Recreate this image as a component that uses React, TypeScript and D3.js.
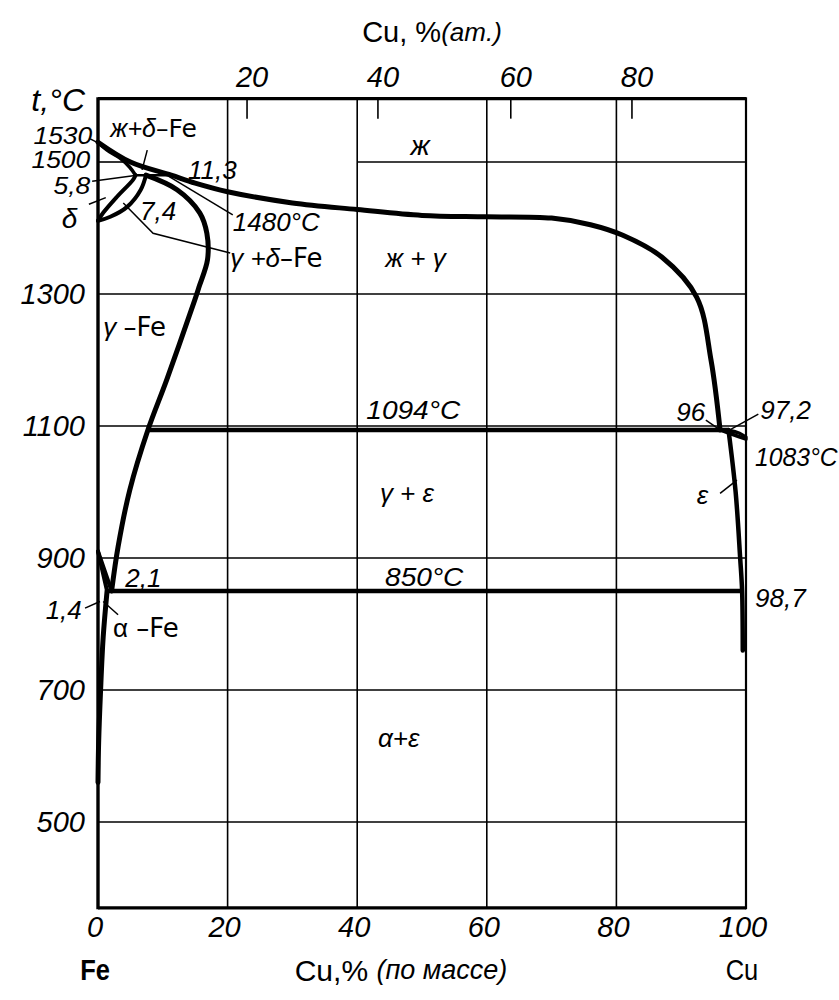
import React from 'react';
import * as d3 from 'd3';

const W = 839;
const H = 1000;

// ---- axis data ----
const massTicks = [0, 20, 40, 60, 80, 100];
const massGrid = [20, 40, 60, 80];
const tempTicks = [500, 700, 900, 1100, 1300];
const tempGridFull = [500, 700, 900, 1100, 1300];
const atTickLabels = [20, 40, 60, 80];
const atTickMass = [23.0, 43.2, 63.7, 82.4];

// ---- phase boundaries: [mass % Cu, T °C] ----
const liquidus: [number, number][] = [
  [0, 1530], [5, 1500], [11.3, 1480], [15, 1468], [20, 1455], [30, 1438], [40, 1428],
  [50, 1419], [60, 1417], [70, 1415], [76, 1405], [81, 1389], [87, 1356], [92.4, 1295],
  [94.6, 1200], [96, 1094],
];
const deltaSolidus: [number, number][] = [[0, 1530], [1.4, 1518], [3.4, 1506], [4.9, 1492], [5.8, 1480]];
const deltaUpper: [number, number][] = [[0, 1411], [0.8, 1423], [2.9, 1447], [5.4, 1473], [5.8, 1480]];
const deltaLower: [number, number][] = [[0, 1411], [1.9, 1417], [4.5, 1432], [6.6, 1458], [7.4, 1480]];
const gammaBoundary: [number, number][] = [
  [7.4, 1480], [12.2, 1458], [15.7, 1423], [16.8, 1392], [16.9, 1352], [15.6, 1311],
  [14.9, 1290], [10.6, 1170], [7.7, 1094], [4.9, 1003], [3.1, 917], [2.1, 850],
];
const gammaAlpha: [number, number][] = [[0, 910], [2.1, 850]];
const alphaGamma: [number, number][] = [[0, 910], [1.4, 850]];
const alphaSolvus: [number, number][] = [[1.4, 850], [0.8, 780], [0.4, 700], [0.1, 620], [0, 560]];
const cuLensUpper: [number, number][] = [[97.2, 1094], [99, 1089], [100, 1083]];
const cuLensLower: [number, number][] = [[96, 1094], [98.3, 1086], [100, 1080]];
const epsSolvus: [number, number][] = [[97.3, 1094], [98.4, 1000], [99.1, 900], [99.4, 850], [99.5, 760]];
const isotherms: { T: number; from: number; to: number }[] = [
  { T: 1480, from: 5.8, to: 11.3 },
  { T: 1094, from: 7.7, to: 97.3 },
  { T: 850, from: 1.4, to: 99.4 },
];

// ---- leader lines: [w, T] pairs ----
const leaders: [number, number][][] = [
  [[-1.2, 1535], [0.4, 1527]],
  [[-0.9, 1471], [6.0, 1480]],
  [[-1.4, 1436], [1.2, 1446]],
  [[7.6, 1518], [6.8, 1488]],
  [[10.8, 1479], [20.8, 1420]],
  [[3.9, 1438], [8.5, 1392], [20.4, 1362]],
  [[93.8, 1109], [96, 1094]],
  [[101.9, 1118], [97.5, 1094]],
  [[96, 998], [98.6, 1018]],
  [[-2, 824], [0.3, 834]],
  [[3.1, 814], [0.8, 834]],
];

type Part = { t: string; it?: boolean; sans?: boolean };
type Ann = { parts: Part[]; w: number; T: number; anchor?: 'start' | 'middle' | 'end'; size?: number; sx?: number };

const annotations: Ann[] = [
  { parts: [{ t: 'ж', it: true }], w: 49.7, T: 1526, anchor: 'middle', size: 28 },
  { parts: [{ t: 'ж + γ', it: true }], w: 49, T: 1355, anchor: 'middle' },
  { parts: [{ t: 'ж+δ', it: true }, { t: '–Fe', sans: true }], w: 1.9, T: 1552, size: 25 },
  { parts: [{ t: '11,3', it: true }], w: 13.9, T: 1488 },
  { parts: [{ t: '7,4', it: true }], w: 6.5, T: 1426 },
  { parts: [{ t: '1480°C', it: true }], w: 20.8, T: 1409 },
  { parts: [{ t: 'γ +δ', it: true }, { t: '–Fe', sans: true }], w: 20.4, T: 1355 },
  { parts: [{ t: 'δ', it: true }], w: -5.6, T: 1415, size: 28 },
  { parts: [{ t: 'γ ', it: true }, { t: '–Fe', sans: true }], w: 0.8, T: 1250 },
  { parts: [{ t: '1094°C', it: true }], w: 41.4, T: 1124, sx: 1.08 },
  { parts: [{ t: 'γ + ε', it: true }], w: 43.5, T: 998 },
  { parts: [{ t: '850°C', it: true }], w: 44.3, T: 870, sx: 1.08 },
  { parts: [{ t: '2,1', it: true }], w: 4.2, T: 870 },
  { parts: [{ t: '1,4', it: true }], w: -2.5, T: 821, anchor: 'end' },
  { parts: [{ t: 'α', it: false }, { t: ' –Fe', sans: true }], w: 2.3, T: 794 },
  { parts: [{ t: 'α+ε', it: true }], w: 43.2, T: 627 },
  { parts: [{ t: '96', it: true }], w: 93.7, T: 1121, anchor: 'end' },
  { parts: [{ t: '97,2', it: true }], w: 102.2, T: 1124 },
  { parts: [{ t: '1083°C', it: true }], w: 101.4, T: 1053, sx: 0.95 },
  { parts: [{ t: 'ε', it: true }], w: 92.4, T: 995 },
  { parts: [{ t: '98,7', it: true }], w: 101.4, T: 839 },
  { parts: [{ t: '1530', it: true }], w: -0.9, T: 1541, anchor: 'end', size: 24, sx: 1.1 },
  { parts: [{ t: '1500', it: true }], w: -1.2, T: 1504, anchor: 'end', size: 24, sx: 1.1 },
  { parts: [{ t: '5,8', it: true }], w: -1.2, T: 1464, anchor: 'end', size: 24, sx: 1.1 },
];

const NUM = "'Liberation Sans','Arimo',sans-serif";
const SANS = "'DejaVu Sans','Liberation Sans',sans-serif";

export default function App() {
  const x = d3.scaleLinear().domain([0, 100]).range([98, 746]);
  const y = d3.scaleLinear().domain([500, 1500]).range([822, 162]);
  const Tmin = 370;
  const Tmax = 1596;
  const line = d3
    .line<[number, number]>()
    .x((d) => x(d[0]))
    .y((d) => y(d[1]))
    .curve(d3.curveCatmullRom.alpha(0.5));
  const straight = d3
    .line<[number, number]>()
    .x((d) => x(d[0]))
    .y((d) => y(d[1]));

  const x0 = x(0), x1 = x(100), yTop = y(Tmax), yBot = y(Tmin);

  const thick = { fill: 'none', stroke: '#000', strokeWidth: 4.5, strokeLinecap: 'round' as const, strokeLinejoin: 'round' as const };

  return (
    <svg
      width={W}
      height={H}
      viewBox={`0 0 ${W} ${H}`}
      style={{ display: 'block', background: '#fff', position: 'absolute', left: 0, top: 0 }}
    >
      <rect x={0} y={0} width={W} height={H} fill="#fff" />
      {/* grid */}
      <g stroke="#000" strokeWidth={1.6}>
        {massGrid.map((v) => (
          <line key={'vg' + v} x1={x(v)} x2={x(v)} y1={yTop} y2={yBot} />
        ))}
        {tempGridFull.map((t) => (
          <line key={'hg' + t} x1={x0} x2={x1} y1={y(t)} y2={y(t)} />
        ))}
        <line x1={x0} x2={x(4.2)} y1={y(1500)} y2={y(1500)} />
        <line x1={x(40)} x2={x1} y1={y(1500)} y2={y(1500)} />
        {atTickMass.map((m, i) => (
          <line key={'at' + i} x1={x(m)} x2={x(m)} y1={yTop} y2={yTop + 20} />
        ))}
      </g>
      {/* frame */}
      <g stroke="#000" fill="none">
        <line x1={x0} x2={x1} y1={yTop} y2={yTop} strokeWidth={3.2} />
        <line x1={x0} x2={x1} y1={yBot} y2={yBot} strokeWidth={3.2} />
        <line x1={x0} x2={x0} y1={yTop - 1.5} y2={yBot + 1.5} strokeWidth={3.4} />
        <line x1={x1} x2={x1} y1={yTop - 1.5} y2={yBot + 1.5} strokeWidth={2.2} />
      </g>
      {/* phase boundaries */}
      <g>
        <path d={line(liquidus) || ''} {...thick} strokeWidth={5} />
        <path d={line(deltaSolidus) || ''} {...thick} strokeWidth={3.5} />
        <path d={line(deltaUpper) || ''} {...thick} strokeWidth={4} />
        <path d={line(deltaLower) || ''} {...thick} strokeWidth={4} />
        <path d={line(gammaBoundary) || ''} {...thick} strokeWidth={5} />
        <path d={straight(gammaAlpha) || ''} {...thick} strokeWidth={4} />
        <path d={straight(alphaGamma) || ''} {...thick} strokeWidth={4} />
        <path d={line(alphaSolvus) || ''} {...thick} strokeWidth={5} />
        <path d={line(cuLensUpper) || ''} {...thick} strokeWidth={3.5} />
        <path d={line(cuLensLower) || ''} {...thick} strokeWidth={3.5} />
        <path d={line(epsSolvus) || ''} {...thick} strokeWidth={4.5} />
        {isotherms.map((iso, i) => (
          <line
            key={'iso' + i}
            x1={x(iso.from)}
            x2={x(iso.to)}
            y1={y(iso.T)}
            y2={y(iso.T)}
            stroke="#000"
            strokeWidth={iso.T === 1480 ? 2.5 : 4.5}
          />
        ))}
      </g>
      {/* leader lines */}
      <g stroke="#000" strokeWidth={1.5} fill="none">
        {leaders.map((pts, i) => (
          <path key={'ld' + i} d={straight(pts) || ''} />
        ))}
      </g>
      {/* annotations */}
      <g fill="#000">
        {annotations.map((a, i) => (
          <text
            key={'an' + i}
            transform={`translate(${x(a.w)},${y(a.T)}) scale(${a.sx || 1},1)`}
            textAnchor={a.anchor || 'start'}
            dominantBaseline="central"
            fontSize={a.size || 26}
          >
            {a.parts.map((p, j) => (
              <tspan key={j} fontFamily={p.sans ? SANS : NUM} fontStyle={p.it ? 'italic' : 'normal'}>
                {p.t}
              </tspan>
            ))}
          </text>
        ))}
      </g>
      {/* left axis tick labels */}
      <g fontFamily={NUM} fontStyle="italic" fontSize={29} textAnchor="end">
        {tempTicks.map((t) => (
          <text key={'yt' + t} x={x0 - 13} y={y(t)} dominantBaseline="central">
            {t}
          </text>
        ))}
        <text x={x0 - 13} y={yTop + 1} dominantBaseline="central" fontSize={32}>
          t,°C
        </text>
      </g>
      {/* bottom axis tick labels */}
      <g fontFamily={NUM} fontStyle="italic" fontSize={29} textAnchor="middle">
        {massTicks.map((v) => (
          <text key={'xt' + v} x={x(v) - 3} y={yBot + 8} dominantBaseline="hanging">
            {v}
          </text>
        ))}
      </g>
      <g fontFamily={NUM} fontSize={30} textAnchor="middle">
        <text transform={`translate(${x(0) - 3},${yBot + 62}) scale(0.85,1)`} dominantBaseline="central" fontWeight="bold">
          Fe
        </text>
        <text transform={`translate(${x(100) - 4},${yBot + 62}) scale(0.85,1)`} dominantBaseline="central">
          Cu
        </text>
        <text transform={`translate(${(x(0) + x(100)) / 2 - 21},${yBot + 62})`} dominantBaseline="central">
          <tspan>Cu,% </tspan>
          <tspan fontStyle="italic" fontSize={27}>(по массе)</tspan>
        </text>
      </g>
      {/* top axis */}
      <g fontFamily={NUM} fontStyle="italic" fontSize={29} textAnchor="middle">
        {atTickLabels.map((v, i) => (
          <text key={'tt' + v} x={x(atTickMass[i]) + 5} y={yTop - 22} dominantBaseline="central">
            {v}
          </text>
        ))}
      </g>
      <text x={432} y={yTop - 67} fontFamily={NUM} fontSize={29} textAnchor="middle" dominantBaseline="central">
        <tspan>Cu, %</tspan>
        <tspan fontStyle="italic" fontSize={26}>(am.)</tspan>
      </text>
    </svg>
  );
}
